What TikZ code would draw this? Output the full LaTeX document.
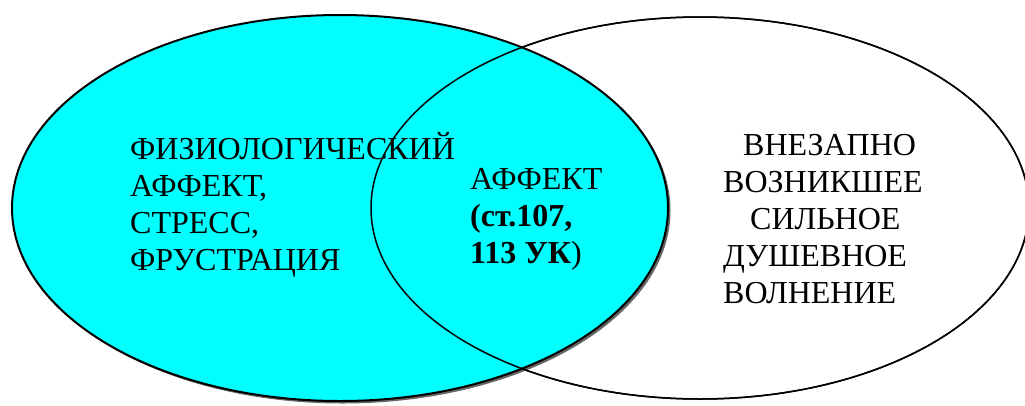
\documentclass[tikz,border=0pt]{standalone}
\usepackage{fontspec}
\setmainfont{Liberation Serif}
\usepackage{tikz}
\definecolor{venncyan}{RGB}{0,255,255}
\tikzset{
  venntext/.style={anchor=base west, align=left, inner sep=0pt, font=\fontsize{32}{36.8}\selectfont},
  vennring/.style={line width=1.5pt}
}

\begin{document}
\begin{tikzpicture}[x=1pt,y=-1pt]
  \useasboundingbox (0,0) rectangle (1025,405);
  \clip (0,0) rectangle (1025,405);
  \coordinate (lc) at (340,208);
  \coordinate (rc) at (700,208);
  \coordinate (ls) at (342.5,210.5);
  \draw[vennring, fill=white] (rc) ellipse [x radius=329pt, y radius=191pt];
  \fill[black!60] (ls) ellipse [x radius=328pt, y radius=193pt];
  \draw[fill=venncyan, line width=2pt] (lc) ellipse [x radius=328pt, y radius=193pt];
  \draw[vennring] (rc) ellipse [x radius=329pt, y radius=191pt];
  % base anchor sits on the last line
  \node[venntext] (phys) at (130,270) {ФИЗИОЛОГИЧЕСКИЙ\\АФФЕКТ,\\СТРЕСС,\\ФРУСТРАЦИЯ};
  \node[venntext] (affect) at (470,263) {АФФЕКТ\\\textbf{(ст.107,}\\\textbf{113 УК})};
  \node[venntext] (sudden) at (723,303) {\hspace*{20pt}ВНЕЗАПНО\\ВОЗНИКШЕЕ\\\hspace*{27pt}СИЛЬНОЕ\\ДУШЕВНОЕ\\ВОЛНЕНИЕ};
\end{tikzpicture}
\end{document}
